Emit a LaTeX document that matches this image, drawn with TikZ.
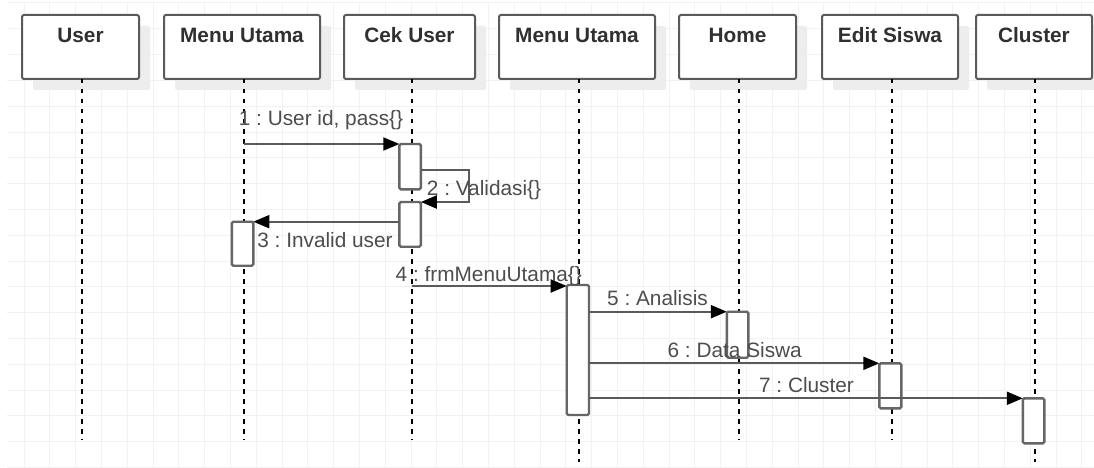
\documentclass[tikz,border=0pt]{standalone}
\usepackage{fontspec}
\setmainfont{Liberation Sans}
\usetikzlibrary{arrows.meta,calc,shadows}
\definecolor{gridc}{HTML}{F2F2F2}
\definecolor{shadowc}{HTML}{EDEDED}
\definecolor{boxline}{HTML}{5A5A5A}
\definecolor{actline}{HTML}{666666}
\definecolor{msgline}{HTML}{5A5A5A}
\definecolor{lblc}{HTML}{4D4D4D}
\definecolor{ttlc}{HTML}{303030}
\frenchspacing
\begin{document}
\begin{tikzpicture}[x=1pt,y=-1pt,
  gridline/.style={draw=gridc, line width=1pt},
  objbox/.style={draw=boxline, line width=2pt, fill=white, rounded corners=2pt,
    minimum height=64pt, inner sep=0pt, outer sep=0pt,
    general shadow={fill=shadowc, shadow xshift=11pt, shadow yshift=-11pt}},
  ttl/.style={anchor=base, inner sep=0pt, text=ttlc, font=\fontsize{20.8}{24}\selectfont\bfseries},
  lbl/.style={anchor=base, inner sep=0pt, text=lblc, font=\fontsize{20.8}{24}\selectfont},
  lifeline/.style={draw=black, line width=2pt, dash pattern=on 4.5pt off 5.5pt},
  act/.style={draw=actline, line width=2.4pt, fill=white, rounded corners=1.5pt,
    minimum width=21.5pt, inner sep=0pt, outer sep=0pt, anchor=north west},
  msg/.style={draw=msgline, line width=2pt,
    -{Triangle[length=16pt,width=13pt,color=black,fill=black]}}
]
\useasboundingbox (0,0) rectangle (1094,468);
\fill[white] (0,0) rectangle (1094,468);
% background grid
\foreach \i in {0,...,41} \draw[gridline] ({24+25.8*\i},3) -- ({24+25.8*\i},468);
\foreach \j in {0,...,18} \draw[gridline] (7,{3+25.8*\j}) -- (1094,{3+25.8*\j});

% object boxes
\node[objbox, minimum width=117pt] (bUser) at (80.5,47) {};
\node[objbox, minimum width=156pt] (bMU1) at (242,47) {};
\node[objbox, minimum width=131pt] (bCek) at (409.5,47) {};
\node[objbox, minimum width=156pt] (bMU2) at (577,47) {};
\node[objbox, minimum width=117pt] (bHome) at (737.5,47) {};
\node[objbox, minimum width=136pt] (bEdit) at (890,47) {};
\node[objbox, minimum width=116pt] (bCluster) at (1034,47) {};

\node[ttl] (tUser) at ($(bUser.north)+(0,28)$) {User};
\node[ttl] (tMU1) at ($(bMU1.north)+(0,28)$) {Menu Utama};
\node[ttl] (tCek) at ($(bCek.north)+(0,28)$) {Cek User};
\node[ttl] (tMU2) at ($(bMU2.north)+(0,28)$) {Menu Utama};
\node[ttl] (tHome) at ($(bHome.north)+(0,28)$) {Home};
\node[ttl] (tEdit) at ($(bEdit.north)+(0,28)$) {Edit Siswa};
\node[ttl] (tCluster) at ($(bCluster.north)+(0,28)$) {Cluster};

% lifeline ends
\coordinate (eUser) at (82,440);
\coordinate (eMU1) at (244.3,440);
\coordinate (eCek) at (411.7,440);
\coordinate (eMU2) at (579.3,462);
\coordinate (eHome) at (739,440);
\coordinate (eEdit) at (891.7,440);
\coordinate (eCluster) at (1035,462);

\draw[lifeline] (bUser.south -| eUser) -- (eUser);
\draw[lifeline] (bMU1.south -| eMU1) -- (eMU1);
\draw[lifeline] (bCek.south -| eCek) -- (eCek);
\draw[lifeline] (bMU2.south -| eMU2) -- (eMU2);
\draw[lifeline] (bHome.south -| eHome) -- (eHome);
\draw[lifeline] (bEdit.south -| eEdit) -- (eEdit);
\draw[lifeline] (bCluster.south -| eCluster) -- (eCluster);

% activations
\node[act, minimum height=45.3pt] (a1) at (399.3,144) {};
\node[act, minimum height=44.7pt] (a2) at (399.3,202) {};
\node[act, minimum height=44pt] (aMU1) at (231.8,221.7) {};
\node[act, minimum height=130pt, minimum width=22.3pt] (aMU2) at (566.7,285) {};
\node[act, minimum height=46pt] (aHome) at (726.8,311.7) {};
\node[act, minimum height=45pt, minimum width=22pt] (aEdit) at (879.3,363.3) {};
\node[act, minimum height=45pt] (aCluster) at (1022.8,398.3) {};

% messages
\coordinate (s1) at (244.3,144);
\coordinate (s4) at (411.7,286);
\draw[msg] (s1) -- (a1.north west);
\draw[msg] (a1.east |- 0,170) -- ++(48.5,0) |- (a2.north east);
\draw[msg] (a2.west |- aMU1.north) -- (aMU1.north east);
\draw[msg] (s4) -- (aMU2.west |- s4);
\draw[msg] (aMU2.east |- aHome.north) -- (aHome.north west);
\draw[msg] (aMU2.east |- aEdit.north) -- (aEdit.north west);
\draw[msg] (aMU2.east |- aCluster.north) -- (aCluster.north west);

% labels
\node[lbl] (l1) at (321,125) {1 : User id, pass\{\}};
\node[lbl] (l2) at (484,195) {2 : Validasi\{\}};
\node[lbl] (l3) at (325,247.3) {3 : Invalid user};
\node[lbl] (l4) at (488.8,281.7) {4 : frmMenuUtama\{\}};
\node[lbl] (l5) at (657.5,305) {5 : Analisis};
\node[lbl] (l6) at (734.7,357.3) {6 : Data Siswa};
\node[lbl] (l7) at (806.5,392.7) {7 : Cluster};
\end{tikzpicture}
\end{document}
